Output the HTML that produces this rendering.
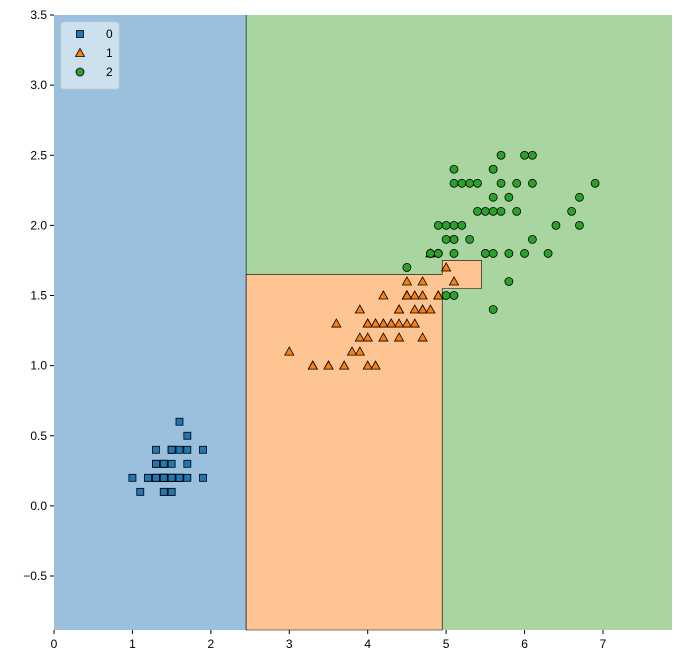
<!DOCTYPE html>
<html><head><meta charset="utf-8"><style>
body{margin:0;background:#fff;}
text{font-family:"Liberation Sans",sans-serif;font-size:12px;fill:#000;}
</style></head><body>
<svg id="chart" width="683" height="665"></svg>
<script>
const classLabels=["0","1","2"];
const petalLength0=[1.4,1.4,1.3,1.5,1.4,1.7,1.4,1.5,1.4,1.5,1.5,1.6,1.4,1.1,1.2,1.5,1.3,1.4,1.7,1.5,1.7,1.5,1.0,1.7,1.9,1.6,1.6,1.5,1.4,1.6,1.6,1.5,1.5,1.4,1.5,1.2,1.3,1.4,1.3,1.5,1.3,1.3,1.3,1.6,1.9,1.4,1.6,1.4,1.5,1.4];
const petalWidth0=[.2,.2,.2,.2,.2,.4,.3,.2,.2,.1,.2,.2,.1,.1,.2,.4,.4,.3,.3,.3,.2,.4,.2,.5,.2,.2,.4,.2,.2,.2,.2,.4,.1,.2,.2,.2,.2,.1,.2,.2,.3,.3,.2,.6,.4,.3,.2,.2,.2,.2];
const petalLength1=[4.7,4.5,4.9,4.0,4.6,4.5,4.7,3.3,4.6,3.9,3.5,4.2,4.0,4.7,3.6,4.4,4.5,4.1,4.5,3.9,4.8,4.0,4.9,4.7,4.3,4.4,4.8,5.0,4.5,3.5,3.8,3.7,3.9,5.1,4.5,4.5,4.7,4.4,4.1,4.0,4.4,4.6,4.0,3.3,4.2,4.2,4.2,4.3,3.0,4.1];
const petalWidth1=[1.4,1.5,1.5,1.3,1.5,1.3,1.6,1.0,1.3,1.4,1.0,1.5,1.0,1.4,1.3,1.4,1.5,1.0,1.5,1.1,1.8,1.3,1.5,1.2,1.3,1.4,1.4,1.7,1.5,1.0,1.1,1.0,1.2,1.6,1.5,1.6,1.5,1.3,1.3,1.3,1.2,1.4,1.2,1.0,1.3,1.2,1.3,1.3,1.1,1.3];
const petalLength2=[6.0,5.1,5.9,5.6,5.8,6.6,4.5,6.3,5.8,6.1,5.1,5.3,5.5,5.0,5.1,5.3,5.5,6.7,6.9,5.0,5.7,4.9,6.7,4.9,5.7,6.0,4.8,4.9,5.6,5.8,6.1,6.4,5.6,5.1,5.6,6.1,5.6,5.5,4.8,5.4,5.6,5.1,5.1,5.9,5.7,5.2,5.0,5.2,5.4,5.1];
const petalWidth2=[2.5,1.9,2.1,1.8,2.2,2.1,1.7,1.8,1.8,2.5,2.0,1.9,2.1,2.0,2.4,2.3,1.8,2.2,2.3,1.5,2.3,2.0,2.0,1.8,2.1,1.8,1.8,1.8,2.1,1.6,1.9,2.0,2.2,1.5,1.4,2.3,2.4,1.8,1.8,2.1,2.4,2.3,1.9,2.3,2.5,2.3,1.9,2.0,2.3,1.8];
const xTicks=[0,1,2,3,4,5,6,7];
const yTicks=[-0.5,0,0.5,1,1.5,2,2.5,3,3.5];
const xMin=0,xMax=7.88,yMin=-0.885,yMax=3.5;
const L=54,R=672,T=15,B=630;
const sx=v=>L+(v-xMin)/(xMax-xMin)*(R-L);
const sy=v=>B-(v-yMin)/(yMax-yMin)*(B-T);
const NS="http://www.w3.org/2000/svg";
const svg=document.getElementById('chart');
function mk(tag,attrs,parent){const e=document.createElementNS(NS,tag);for(const k in attrs)e.setAttribute(k,attrs[k]);(parent||svg).appendChild(e);return e;}
let r=mk('rect',{x:L,y:T,width:R-L,height:B-T,fill:'#a8d5a0'});


r=mk('rect',{x:L,y:T,width:sx(2.45)-L,height:B-T,fill:'#9bc0dd'});


mk('line',{x1:sx(2.45),y1:T,x2:sx(2.45),y2:B,stroke:'#000','stroke-width':0.6});
const op=[[2.45,yMin],[2.45,1.65],[4.95,1.65],[4.95,1.75],[5.45,1.75],[5.45,1.55],[4.95,1.55],[4.95,yMin]];
r=mk('polygon',{points:op.map(p=>sx(p[0])+','+sy(p[1])).join(' '),fill:'#fec593',stroke:'#000','stroke-width':0.6});


const cols=['#1f77b4','#ff7f0e','#2ca02c'];
function marker(c,x,y,g){
 let e;
 if(c===0)e=mk('rect',{x:x-3.5,y:y-3.5,width:7,height:7},g);
 else if(c===1)e=mk('polygon',{points:`${x},${y-4.5} ${x-4.5},${y+3.5} ${x+4.5},${y+3.5}`},g);
 else e=mk('circle',{cx:x,cy:y,r:4},g);
 e.setAttribute('fill',cols[c]);e.setAttribute('stroke','#000');e.setAttribute('stroke-width','0.8');
 return e;
}
[[petalLength0,petalWidth0],[petalLength1,petalWidth1],[petalLength2,petalWidth2]].forEach((d,c)=>{
 const g=mk('g',{});
 
 
 d[0].forEach((v,i)=>{const m=marker(c,sx(v),sy(d[1][i]),g);
  
  });
});
xTicks.forEach(t=>{const x=sx(t);
 mk('line',{x1:x,y1:B,x2:x,y2:B+4,stroke:'#000'});
 const tx=mk('text',{x:x,y:B+18,'text-anchor':'middle'});tx.textContent=t;
 
 });
yTicks.forEach(t=>{const y=sy(t);
 mk('line',{x1:L-4,y1:y,x2:L,y2:y,stroke:'#000'});
 const tx=mk('text',{x:L-7,y:y+4,'text-anchor':'end'});tx.textContent=(t<0?'\u2212':'')+Math.abs(t).toFixed(1);
 
 });
const lg=mk('g',{});


mk('rect',{x:61,y:22,width:58,height:67,rx:3,fill:'#fff','fill-opacity':0.5,stroke:'#ccc','stroke-opacity':0.6},lg);
classLabels.forEach((lab,i)=>{const y=34+i*19;
 const m=marker(i,80,y,lg);
 
 
 const t=mk('text',{x:106,y:y+4},lg);t.textContent=lab;
 
 });
</script>
</body></html>
